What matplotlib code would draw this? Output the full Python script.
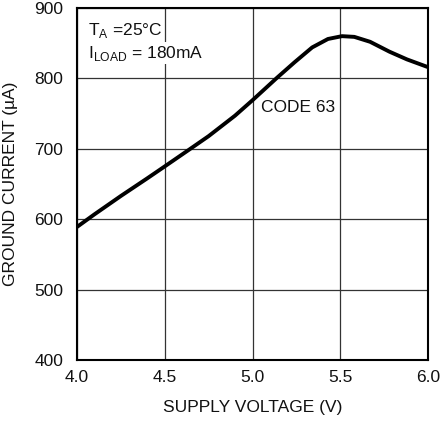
import matplotlib
matplotlib.use("Agg")
import matplotlib.pyplot as plt

fam = ['Liberation Sans', 'DejaVu Sans']
plt.rcParams['font.family'] = fam
plt.rcParams['mathtext.fontset'] = 'custom'
plt.rcParams['mathtext.rm'] = fam[0]

voltage = [4.0, 4.1, 4.25, 4.4, 4.5, 4.64, 4.75, 4.9, 5.0, 5.07, 5.14, 5.24, 5.34, 5.43, 5.51, 5.58, 5.67, 5.78, 5.88, 6.0]
current = [589, 607, 633, 658, 675, 699, 718, 747, 769, 785, 801, 823, 844, 856, 860, 859, 852, 838, 827, 816]
xticks = [4.0, 4.5, 5.0, 5.5, 6.0]
yticks = [400, 500, 600, 700, 800, 900]

fig = plt.figure(figsize=(4.42, 4.21), dpi=100)
ax = fig.add_axes([77/442, 1-360/421, (428-77)/442, (360-8)/421])
ax.plot(voltage, current, color='black', lw=2.8, solid_capstyle='butt', solid_joinstyle='round', zorder=3)
ax.set_xlim(4.0, 6.0)
ax.set_ylim(400, 900)
ax.set_xticks(xticks)
ax.set_xticklabels([f"{v:.1f}" for v in xticks])
ax.set_yticks(yticks)
ax.grid(True, color='#333333', lw=0.9)
ax.tick_params(axis='both', length=0, labelsize=12.5, colors='#111111')
ax.tick_params(axis='x', pad=7)
ax.tick_params(axis='y', pad=10)
for s in ax.spines.values():
    s.set_linewidth(1.5)
    s.set_color('black')
ax.set_xlabel('SUPPLY VOLTAGE (V)', fontsize=12.5, color='#111111')
ax.xaxis.set_label_coords(0.5, -0.115)
ax.set_ylabel('GROUND CURRENT (µA)', fontsize=12.5, color='#111111')
ax.yaxis.set_label_coords(-0.168, 0.5)
ax.text(0.031, 0.935, r'T$_\mathregular{A}$ =25°C', transform=ax.transAxes, fontsize=12.5, va='center', ha='left',
        color='#111111', bbox=dict(facecolor='white', edgecolor='none', pad=1))
ax.text(0.031, 0.872, r'I$_\mathregular{LOAD}$ = 180mA', transform=ax.transAxes, fontsize=12.5, va='center', ha='left',
        color='#111111', bbox=dict(facecolor='white', edgecolor='none', pad=1))
ax.text(5.05, 758, 'CODE 63', fontsize=12.5, va='center', ha='left', color='#111111')
fig.savefig('out.png', dpi=100)
